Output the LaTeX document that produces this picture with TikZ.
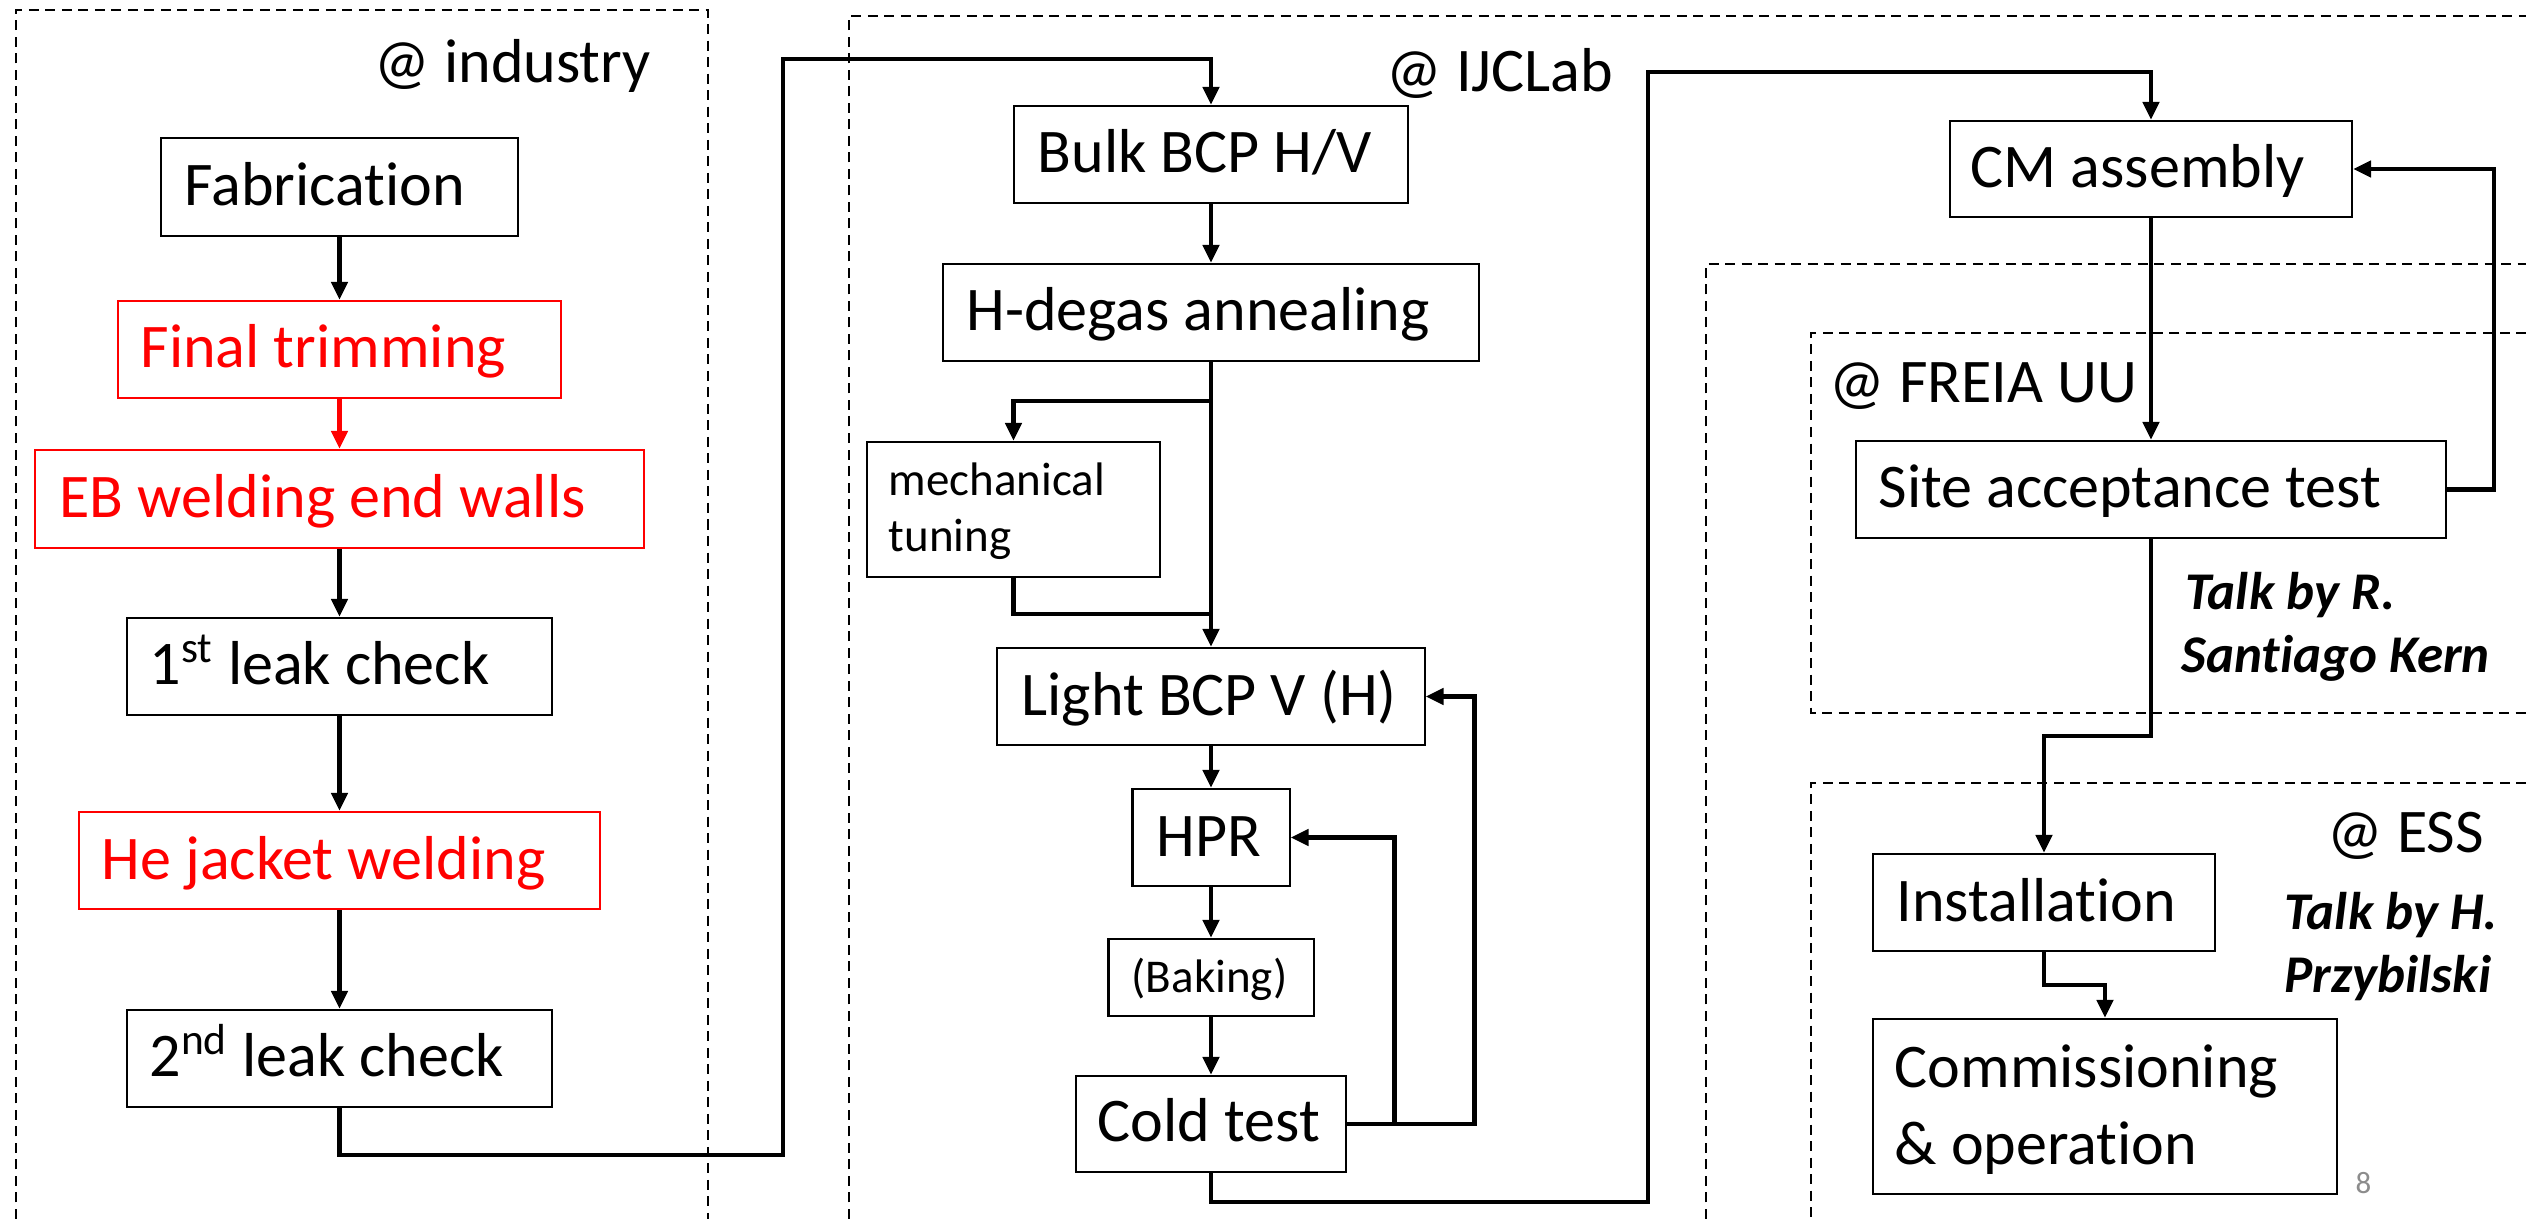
\documentclass[tikz,border=0pt]{standalone}
\usepackage{fontspec}
\setmainfont{Carlito}[Ligatures=NoCommon]
\usetikzlibrary{arrows.meta}
\definecolor{pagegrey}{HTML}{8C8C8C}
\begin{document}
\begin{tikzpicture}[x=0.01cm,y=-0.01cm,
  box/.style={draw=black, line width=0.6pt, inner sep=0pt, fill=white},
  redbox/.style={box, draw=red},
  txt/.style={anchor=base west, inner sep=0pt, font=\fontsize{17.65}{21.9}\selectfont},
  redtxt/.style={txt, text=red},
  smalltxt/.style={anchor=base west, inner sep=0pt, font=\fontsize{13.37}{16}\selectfont},
  talk/.style={anchor=base west, inner sep=0pt, font=\fontsize{15.08}{18}\selectfont\bfseries\itshape},
  region/.style={line width=0.57pt, dash pattern=on 0.1cm off 0.065cm},
  tip/.tip={Triangle[length=0.18cm,width=0.16cm]},
  flow/.style={line width=1.4pt, -tip},
  redflow/.style={flow, draw=red, -{Triangle[length=0.18cm,width=0.16cm,fill=red]}},
  link/.style={line width=1.4pt}]

\fill[white] (0,0) rectangle (2526,1219);
\useasboundingbox (0,0) rectangle (2526,1219);

% site regions
\draw[region] (16,1219) -- (16,10) -- (708,10) -- (708,1219);
\draw[region] (849,1219) -- (849,16) -- (2526,16);
\draw[region] (1706,1219) -- (1706,264) -- (2526,264);
\draw[region] (2526,333) -- (1811,333) -- (1811,713) -- (2526,713);
\draw[region] (2526,783) -- (1811,783) -- (1811,1219);

\node[txt] (lind) at (374,83) {@ industry};
\node[txt] (lijc) at (1386,92) {@ IJCLab};
\node[txt] (lfreia) at (1829,403) {@ FREIA UU};
\node[txt] (less) at (2327,853) {@ ESS};

% industry column
\node[box, minimum width=3.57cm, minimum height=0.98cm] (fab) at (339.5,187) {};
\node[txt] (fabt) at (184,206) {Fabrication};
\node[redbox, minimum width=4.43cm, minimum height=0.97cm] (trim) at (339.5,349.5) {};
\node[redtxt] (trimt) at (140,368) {Final trimming};
\node[redbox, minimum width=6.09cm, minimum height=0.98cm] (eb) at (339.5,499) {};
\node[redtxt] (ebt) at (59,518) {EB welding end walls};
\node[box, minimum width=4.25cm, minimum height=0.97cm] (leak1) at (339.5,666.5) {};
\node[txt] (leak1t) at (149,685) {1\textsuperscript{st} leak check};
\node[redbox, minimum width=5.21cm, minimum height=0.97cm] (he) at (339.5,860.5) {};
\node[redtxt] (het) at (101,880) {He jacket welding};
\node[box, minimum width=4.25cm, minimum height=0.97cm] (leak2) at (339.5,1058.5) {};
\node[txt] (leak2t) at (149,1077) {2\textsuperscript{nd} leak check};

% IJCLab column
\node[box, minimum width=3.94cm, minimum height=0.97cm] (bulk) at (1211,154.5) {};
\node[txt] (bulkt) at (1037,173) {Bulk BCP H/V};
\node[box, minimum width=5.36cm, minimum height=0.97cm] (degas) at (1211,312.5) {};
\node[txt] (degast) at (966,331) {H-degas annealing};
\node[box, minimum width=2.93cm, minimum height=1.35cm] (mech) at (1013.5,509.5) {};
\node[smalltxt] (mecht1) at (888,496) {mechanical};
\node[smalltxt] (mecht2) at (888,552) {tuning};
\node[box, minimum width=4.27cm, minimum height=0.97cm] (light) at (1211,696.5) {};
\node[txt] (lightt) at (1021,716) {Light BCP V (H)};
\node[box, minimum width=1.57cm, minimum height=0.97cm] (hpr) at (1211,837.5) {};
\node[txt] (hprt) at (1156,857) {HPR};
\node[box, minimum width=2.05cm, minimum height=0.77cm] (bake) at (1211,977.5) {};
\node[smalltxt] (baket) at (1131,993) {(Baking)};
\node[box, minimum width=2.70cm, minimum height=0.96cm] (cold) at (1211,1124) {};
\node[txt] (coldt) at (1097,1142) {Cold test};

% cryomodule, test and installation
\node[box, minimum width=4.02cm, minimum height=0.96cm] (cm) at (2151,169) {};
\node[txt] (cmt) at (1970,188) {CM assembly};
\node[box, minimum width=5.89cm, minimum height=0.97cm] (sat) at (2151,489.5) {};
\node[txt] (satt) at (1878,508) {Site acceptance test};
\node[box, minimum width=3.42cm, minimum height=0.97cm] (inst) at (2044,902.5) {};
\node[txt] (instt) at (1896,922) {Installation};
\node[box, minimum width=4.64cm, minimum height=1.75cm] (comm) at (2105,1106.5) {};
\node[txt] (commt1) at (1894,1088) {Commissioning};
\node[txt] (commt2) at (1894,1165) {\& operation};

\node[talk] (talkr1) at (2185,610) {Talk by R.};
\node[talk] (talkr2) at (2181,673) {Santiago Kern};
\node[talk] (talkh1) at (2284,930) {Talk by H.};
\node[talk] (talkh2) at (2284,993) {Przybilski};

\node[anchor=base west, inner sep=0pt, text=pagegrey, font=\fontsize{8.8}{10}\selectfont] (pnum) at (2355,1194) {8};

% connectors
\draw[flow] (fab.south) -- (trim.north);
\draw[redflow] (trim.south) -- (eb.north);
\draw[flow] (eb.south) -- (leak1.north);
\draw[flow] (leak1.south) -- (he.north);
\draw[flow] (he.south) -- (leak2.north);
\draw[flow] (leak2.south) |- (783,1155) -- (783,59) -| (bulk.north);

\draw[flow] (bulk.south) -- (degas.north);
\draw[flow] (degas.south) -- (light.north);
\coordinate (split) at (1211,401);
\coordinate (join) at (1211,614);
\draw[flow] (split) -| (mech.north);
\draw[link] (mech.south) |- (join);
\draw[flow] (light.south) -- (hpr.north);
\draw[flow] (hpr.south) -- (bake.north);
\draw[flow] (bake.south) -- (cold.north);
\draw[flow] (cold.east) -- ++(47,0) |- (hpr.east);
\draw[flow] (cold.east) -- ++(127,0) |- (light.east);
\draw[flow] (cold.south) |- (1648,1202) -- (1648,72) -| (cm.north);

\draw[flow] (cm.south) -- (sat.north);
\draw[flow] (sat.east) -| (2494,169) -- (cm.east);
\draw[flow] (sat.south) |- (2044,736) -- (inst.north);
\draw[flow] (inst.south) |- (2105,985) -- (comm.north);
\end{tikzpicture}
\end{document}
